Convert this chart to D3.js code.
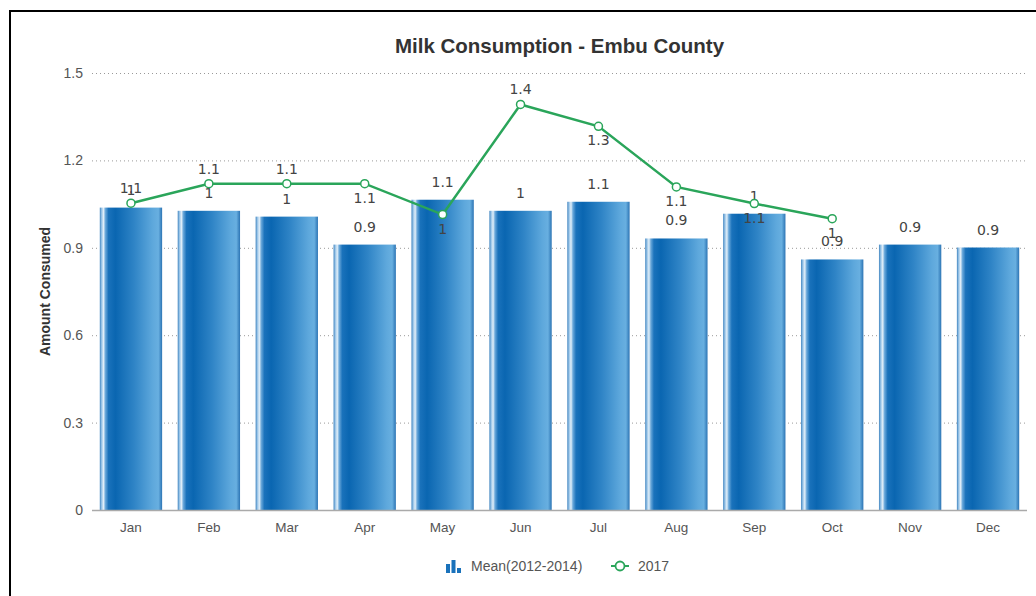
<!DOCTYPE html>
<html>
<head>
<meta charset="utf-8">
<script src="https://cdn.jsdelivr.net/npm/d3@7"></script>
<style>
  body { margin: 0; background: #fff; }
  svg { display: block; font-family: "Liberation Sans", Arial, sans-serif; }
</style>
</head>
<body>
<svg id="chart"></svg>
<script>
var width = 1036, height = 596;

// data
var months = ['Jan', 'Feb', 'Mar', 'Apr', 'May', 'Jun', 'Jul', 'Aug', 'Sep', 'Oct', 'Nov', 'Dec'];
var meanValues = [1.038, 1.027, 1.007, 0.911, 1.065, 1.027, 1.058, 0.932, 1.017, 0.86, 0.911, 0.901];
var values2017 = [1.053, 1.12, 1.12, 1.12, 1.014, 1.392, 1.317, 1.109, 1.052, 1.0, null, null];
var yTicks = [0, 0.3, 0.6, 0.9, 1.2, 1.5];
// months where the 2017 label sits under the point
var labelsBelow = ['Apr', 'May', 'Jul', 'Aug', 'Sep', 'Oct'];

var margin = {top: 73, right: 9, bottom: 86, left: 92};
var green = '#2aa55a';

var svg = d3.select('#chart')
    .attr('width', width)
    .attr('height', height)
    .attr('viewBox', `0 0 ${width} ${height}`);

// frame lines (screenshot edge)
svg.append('line').attr('x1', 10).attr('x2', width).attr('y1', 11).attr('y2', 11)
    .attr('stroke', '#000').attr('stroke-width', 2);
svg.append('line').attr('x1', 10).attr('x2', 10).attr('y1', 10).attr('y2', height)
    .attr('stroke', '#000').attr('stroke-width', 2);

var x = d3.scaleBand()
    .domain(months)
    .range([margin.left, width - margin.right])
    .paddingInner(0.2)
    .paddingOuter(0.1);

var y = d3.scaleLinear()
    .domain([0, 1.5])
    .range([height - margin.bottom, margin.top]);

var fmt = v => String(Math.round(v * 10) / 10);

// bar gradient
var defs = svg.append('defs');
var grad = defs.append('linearGradient').attr('id', 'barGrad')
    .attr('x1', '0%').attr('x2', '100%').attr('y1', '0%').attr('y2', '0%');
[
    ['0%', '#3f84c0'], ['3%', '#9cc6e8'], ['6%', '#e2eff9'], ['9%', '#6aa8da'],
    ['14%', '#1a72bb'], ['25%', '#0a66b1'], ['55%', '#2f84c6'], ['85%', '#5ea8dc'],
    ['94%', '#68afe0'], ['100%', '#2c74b4']
].forEach(s => grad.append('stop').attr('offset', s[0]).attr('stop-color', s[1]));

// title
svg.append('text')
    .attr('x', (margin.left + width - margin.right) / 2)
    .attr('y', 53)
    .attr('text-anchor', 'middle')
    .attr('font-size', 20.5)
    .attr('font-weight', 'bold')
    .attr('fill', '#333')
    .text('Milk Consumption - Embu County');

// grid + y labels
var grid = svg.append('g');
grid.selectAll('line')
    .data(yTicks.filter(d => d > 0))
    .join('line')
    .attr('x1', margin.left)
    .attr('x2', width - margin.right)
    .attr('y1', d => y(d) + 0.5)
    .attr('y2', d => y(d) + 0.5)
    .attr('stroke', '#999')
    .attr('stroke-width', 1)
    .attr('stroke-dasharray', '1,3');

svg.append('g').selectAll('text')
    .data(yTicks)
    .join('text')
    .attr('x', margin.left - 9)
    .attr('y', d => y(d))
    .attr('dy', '0.35em')
    .attr('text-anchor', 'end')
    .attr('font-size', 14)
    .attr('fill', '#555')
    .text(d => d);

svg.append('text')
    .attr('transform', `translate(50, ${(margin.top + height - margin.bottom) / 2}) rotate(-90)`)
    .attr('text-anchor', 'middle')
    .attr('font-size', 14)
    .attr('font-weight', 'bold')
    .attr('fill', '#333')
    .text('Amount Consumed');

// bars
svg.append('g').selectAll('rect')
    .data(meanValues)
    .join('rect')
    .attr('x', (d, i) => x(months[i]))
    .attr('y', d => y(d))
    .attr('width', x.bandwidth())
    .attr('height', d => y(0) - y(d))
    .attr('fill', 'url(#barGrad)');

// x axis line
svg.append('line')
    .attr('x1', margin.left).attr('x2', width - margin.right)
    .attr('y1', y(0) + 0.5).attr('y2', y(0) + 0.5)
    .attr('stroke', '#aaa').attr('stroke-width', 1.5);

svg.append('g').selectAll('text')
    .data(months)
    .join('text')
    .attr('x', d => x(d) + x.bandwidth() / 2)
    .attr('y', y(0) + 22)
    .attr('text-anchor', 'middle')
    .attr('font-size', 13.5)
    .attr('fill', '#555')
    .text(d => d);

// bar labels
svg.append('g').selectAll('text')
    .data(meanValues)
    .join('text')
    .attr('x', (d, i) => x(months[i]) + x.bandwidth() / 2)
    .attr('y', d => y(d) - 13)
    .attr('text-anchor', 'middle')
    .attr('font-family', '"DejaVu Sans", Verdana, sans-serif')
    .attr('font-size', 14)
    .attr('fill', '#444')
    .text(d => fmt(d));

// 2017 line
var points = values2017.map((v, i) => ({month: months[i], value: v})).filter(d => d.value != null);
var line = d3.line()
    .x(d => x(d.month) + x.bandwidth() / 2)
    .y(d => y(d.value));

svg.append('path')
    .datum(points)
    .attr('d', line)
    .attr('fill', 'none')
    .attr('stroke', green)
    .attr('stroke-width', 2.5);

svg.append('g').selectAll('circle')
    .data(points)
    .join('circle')
    .attr('cx', d => x(d.month) + x.bandwidth() / 2)
    .attr('cy', d => y(d.value))
    .attr('r', 4)
    .attr('fill', '#fff')
    .attr('stroke', green)
    .attr('stroke-width', 1.5);

svg.append('g').selectAll('text')
    .data(points)
    .join('text')
    .attr('x', d => x(d.month) + x.bandwidth() / 2)
    .attr('y', d => labelsBelow.includes(d.month) ? y(d.value) + 19 : y(d.value) - 10)
    .attr('text-anchor', 'middle')
    .attr('font-family', '"DejaVu Sans", Verdana, sans-serif')
    .attr('font-size', 14)
    .attr('fill', '#444')
    .text(d => fmt(d.value));

// legend
var legend = svg.append('g').attr('transform', 'translate(446, 566)');
legend.selectAll('rect')
    .data([9, 13, 5])
    .join('rect')
    .attr('x', (d, i) => i * 5.5)
    .attr('y', d => 7 - d)
    .attr('width', 4)
    .attr('height', d => d)
    .attr('fill', '#1a72bb');
legend.append('text')
    .attr('x', 25).attr('y', 5)
    .attr('font-size', 14).attr('fill', '#555')
    .text('Mean(2012-2014)');
legend.append('line')
    .attr('x1', 165).attr('x2', 183).attr('y1', 0).attr('y2', 0)
    .attr('stroke', green).attr('stroke-width', 2);
legend.append('circle')
    .attr('cx', 174).attr('cy', 0).attr('r', 4.5)
    .attr('fill', '#fff').attr('stroke', green).attr('stroke-width', 1.8);
legend.append('text')
    .attr('x', 192).attr('y', 5)
    .attr('font-size', 14).attr('fill', '#555')
    .text('2017');
</script>
</body>
</html>
